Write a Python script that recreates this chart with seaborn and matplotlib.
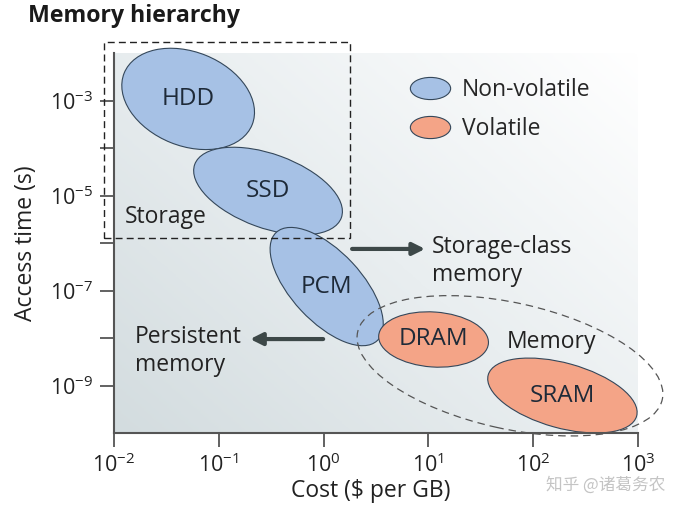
import numpy as np
import matplotlib
matplotlib.use("Agg")
import matplotlib.pyplot as plt
import matplotlib.transforms as mtransforms
import seaborn as sns
from matplotlib.patches import Ellipse, Rectangle
from matplotlib.path import Path
from matplotlib.lines import Line2D
from matplotlib.colors import LinearSegmentedColormap

# 1. Values
techs = ["HDD", "SSD", "PCM", "DRAM", "SRAM"]
kinds = ["Non-volatile", "Non-volatile", "Non-volatile", "Volatile", "Volatile"]
cost_per_gb = [0.051, 0.295, 1.07, 11.2, 190]            # $ per GB (cloud centre)
access_time = [1.08e-3, 1.24e-5, 1.21e-7, 9.3e-9, 6.15e-10]  # s (cloud centre)
memory_group = (60, 2.6e-9)                                # centre of the "Memory" region
x_exponents = [-2, -1, 0, 1, 2, 3]
y_exponents = [-9, -8, -7, -6, -5, -4, -3]
y_labelled = [-9, -7, -5, -3]

# 2. Styling
sns.set_theme(style="white")
plt.rcParams["font.family"] = ["Open Sans", "DejaVu Sans"]
plt.rcParams["mathtext.fontset"] = "custom"
plt.rcParams["mathtext.rm"] = "Open Sans"
plt.rcParams["mathtext.default"] = "regular"

FS = 16.5
colors = {"Non-volatile": "#a6c1e5", "Volatile": "#f4a487"}
edge = "#34475a"
# cloud outline in pixels: semi-major, semi-minor, tilt
shape = {"HDD": (69, 47, -22), "SSD": (78, 37, -20), "PCM": (74, 35, -47),
         "DRAM": (55, 27.5, -4), "SRAM": (77, 32.5, -15.5)}

fig = plt.figure(figsize=(6.8, 5.12), dpi=100)
ax = fig.add_axes([114 / 680, 79 / 512, 524 / 680, 380 / 512])
ax.set_xscale("log")
ax.set_yscale("log")

# background gradient
xx, yy = np.meshgrid(np.linspace(0, 1, 256), np.linspace(0, 1, 256))
bg = LinearSegmentedColormap.from_list("bg", ["#d3dcdf", "#e9eef0", "#ffffff"])
ax.imshow(xx * 0.55 + yy * 0.45, extent=(0, 1, 0, 1), transform=ax.transAxes,
          origin="lower", aspect="auto", cmap=bg, zorder=0, interpolation="bilinear")
ax.set_xlim(1e-2, 1e3)
ax.set_ylim(1e-10, 1e-2)


def cloud(x, y, a, b, angle, **kw):
    off = mtransforms.ScaledTranslation(x, y, ax.transData)
    e = Ellipse((0, 0), 2 * a / 100, 2 * b / 100, angle=angle,
                transform=fig.dpi_scale_trans + off, clip_on=False, **kw)
    ax.add_patch(e)


for t, k, x, y in zip(techs, kinds, cost_per_gb, access_time):
    a, b, ang = shape[t]
    cloud(x, y, a, b, ang, facecolor=colors[k], edgecolor=edge, lw=0.8, zorder=2)
    ax.text(x, y, t, ha="center", va="center", fontsize=17.5, color="#1e2a38", zorder=5)

# memory region (dashed ellipse) and storage box (dashed rectangle)
cloud(memory_group[0], memory_group[1], 156, 63, -12.5, facecolor="none",
      edgecolor="#555555", lw=0.9, ls=(0, (6, 4)), zorder=3)
ax.add_patch(Rectangle((0.00803, 1.27e-6), 1.786 - 0.00803, 0.0171 - 1.27e-6,
                       fill=False, edgecolor="#222222", lw=1.0, ls=(0, (5, 3)),
                       clip_on=False, zorder=3))

ax.text(0.0127, 3.5e-6, "Storage", ha="left", va="center", fontsize=FS, color="#222222", zorder=5)
ax.text(148, 8.2e-9, "Memory", ha="center", va="center", fontsize=FS, color="#222222", zorder=5)
ax.text(10.8, 4.2e-7, "Storage-class\nmemory", ha="left", va="center", fontsize=FS,
        color="#222222", linespacing=1.25, zorder=5)
ax.text(0.0158, 5.3e-9, "Persistent\nmemory", ha="left", va="center", fontsize=FS,
        color="#222222", linespacing=1.25, zorder=5)

arrow = dict(arrowstyle="-|>", lw=3, color="#3d4848", mutation_scale=18, shrinkA=0, shrinkB=0)
ax.annotate("", xy=(9.3, 7.5e-7), xytext=(1.87, 7.5e-7), arrowprops=arrow, zorder=4)
ax.annotate("", xy=(0.199, 9.5e-9), xytext=(0.99, 9.5e-9), arrowprops=arrow, zorder=4)

# legend with elliptical markers
circ = Path.unit_circle()
ell = Path(circ.vertices * [1, 0.55], circ.codes)
handles = [Line2D([], [], ls="none", marker=ell, markersize=29, markerfacecolor=colors[k],
                  markeredgecolor=edge, markeredgewidth=0.8) for k in colors]
ax.legend(handles, list(colors), loc="upper left", bbox_to_anchor=(0.559, 0.935),
          frameon=False, handlelength=2.0, handletextpad=0.4, borderpad=0,
          borderaxespad=0, labelspacing=0.66, fontsize=FS)

# axes, ticks
ax.set_xticks([10.0 ** e for e in x_exponents])
ax.set_xticklabels([rf"$10^{{{e}}}$" for e in x_exponents])
ax.set_yticks([10.0 ** e for e in y_exponents])
ax.set_yticklabels([rf"$10^{{{e}}}$" if e in y_labelled else "" for e in y_exponents])
ax.minorticks_off()
ax.tick_params(which="major", direction="out", length=10, width=1.3, color="#555555",
               labelsize=15.5, labelcolor="#222222", pad=5, bottom=True, left=True)
sns.despine(ax=ax)
for s in ("left", "bottom"):
    ax.spines[s].set_color("#555555")
    ax.spines[s].set_linewidth(1.5)
ax.set_xlabel("Cost ($ per GB)", fontsize=FS, color="#222222")
ax.set_ylabel("Access time (s)", fontsize=FS, color="#222222")
ax.xaxis.set_label_coords(0.49, -0.12)
ax.yaxis.set_label_coords(-0.145, 0.5)

fig.text(28 / 680, 1 - 16 / 512, "Memory hierarchy", fontsize=16.7, fontweight="bold",
         ha="left", va="center", color="#1a1a1a")
fig.text(0.891, 0.053, "知乎 @诸葛务农", family=["Noto Sans CJK SC", "DejaVu Sans"],
         fontsize=12, color="#c4c4c4", ha="center", va="center")

fig.savefig("out.png", dpi=100)
